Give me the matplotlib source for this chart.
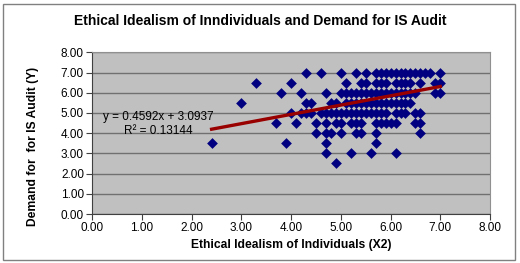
import matplotlib
matplotlib.use("Agg")
import matplotlib.pyplot as plt
import numpy as np
from matplotlib.patches import Rectangle

plt.rcParams['font.family'] = ['Liberation Sans', 'DejaVu Sans']

# Data: x values grouped by y level
row_7_0 = [4.3, 4.6, 5.0, 5.3, 5.5, 5.7, 5.8, 5.9, 6.0, 6.1, 6.2, 6.3, 6.4, 6.5, 6.6, 6.7, 6.8, 7.0]
row_6_5 = [3.3, 4.0, 5.1, 5.4, 5.5, 5.7, 5.8, 5.9, 6.1, 6.2, 6.3, 6.4, 6.6, 6.9, 7.0]
row_6_0 = [3.8, 4.2, 4.7, 5.0, 5.1, 5.2, 5.3, 5.4, 5.5, 5.6, 5.7, 5.8, 5.9, 6.0, 6.1, 6.2, 6.3, 6.4, 6.5, 6.9, 7.0]
row_5_5 = [3.0, 4.3, 4.4, 4.8, 4.9, 5.1, 5.2, 5.3, 5.4, 5.5, 5.6, 5.7, 5.8, 5.9, 6.0, 6.1, 6.2, 6.3, 6.4]
row_5_0 = [4.0, 4.2, 4.3, 4.4, 4.6, 4.7, 4.8, 4.9, 5.0, 5.1, 5.2, 5.3, 5.4, 5.5, 5.6, 5.7, 5.8, 5.9, 6.1, 6.2, 6.3, 6.5, 6.6]
row_4_5 = [3.7, 4.1, 4.5, 4.7, 4.9, 5.0, 5.2, 5.3, 5.4, 5.7, 5.8, 5.9, 6.0, 6.1, 6.5, 6.6]
row_4_0 = [4.5, 4.7, 4.8, 5.0, 5.3, 5.4, 5.7, 6.6]
row_3_5 = [2.4, 3.9, 4.7, 5.7]
row_3_0 = [4.7, 5.2, 5.6, 6.1]
row_2_5 = [4.9]

rows = {7.0: row_7_0, 6.5: row_6_5, 6.0: row_6_0, 5.5: row_5_5, 5.0: row_5_0,
        4.5: row_4_5, 4.0: row_4_0, 3.5: row_3_5, 3.0: row_3_0, 2.5: row_2_5}

slope = 0.4592
intercept = 3.0937
r_squared = 0.13144

title = "Ethical Idealism of Inndividuals and Demand for IS Audit"
xlabel = "Ethical Idealism of Individuals (X2)"
ylabel = "Demand for  for IS Audit (Y)"

xs = np.concatenate([np.array(v) for v in rows.values()])
ys = np.concatenate([np.full(len(v), k) for k, v in rows.items()])

fig = plt.figure(figsize=(5.2, 2.63), dpi=100)
fig.patch.set_facecolor('white')
fig.patches.append(Rectangle((0.006, 0.01), 0.984, 0.975, transform=fig.transFigure,
                             fill=False, edgecolor='#808080', linewidth=1.0))

ax = fig.add_axes([0.1775, 0.1863, 0.9423 - 0.1775, 0.801 - 0.1863])
ax.set_facecolor('#C0C0C0')
ax.set_xlim(0, 8)
ax.set_ylim(0, 8)
ax.set_xticks(np.arange(0, 8.01, 1))
ax.set_yticks(np.arange(0, 8.01, 1))
ax.set_xticklabels([f"{v:.2f}" for v in np.arange(0, 8.01, 1)])
ax.set_yticklabels([f"{v:.2f}" for v in np.arange(0, 8.01, 1)])
ax.yaxis.grid(True, color='#707070', linewidth=1.0)
ax.set_axisbelow(True)
ax.tick_params(direction='out', length=4, width=0.8, labelsize=8.5, color='#404040', pad=2)

for s in ['top', 'right']:
    ax.spines[s].set_color('#909090')
for s in ['left', 'bottom']:
    ax.spines[s].set_color('#404040')

ax.scatter(xs, ys, marker='D', s=30, color='#000080', zorder=3, linewidths=0)

xl = np.array([xs.min(), xs.max()])
ax.plot(xl, slope * xl + intercept, color='#990000', linewidth=2.4, zorder=4)

ax.text(1.32, 4.79, f"y = {slope}x + {intercept}", ha='center', va='center', fontsize=8.5, zorder=5)
ax.text(1.32, 4.11, f"R² = {r_squared}", ha='center', va='center', fontsize=8.5, zorder=5)

fig.text(0.5, 1 - 21 / 263, title, ha='center', va='center', fontsize=10, fontweight='bold')
ax.set_xlabel(xlabel, fontsize=8.7, fontweight='bold', labelpad=3)
fig.text(33 / 520, 1 - 146 / 263, ylabel, rotation=90, ha='center', va='center', fontsize=8.7, fontweight='bold')

fig.savefig('out.png', dpi=100)
